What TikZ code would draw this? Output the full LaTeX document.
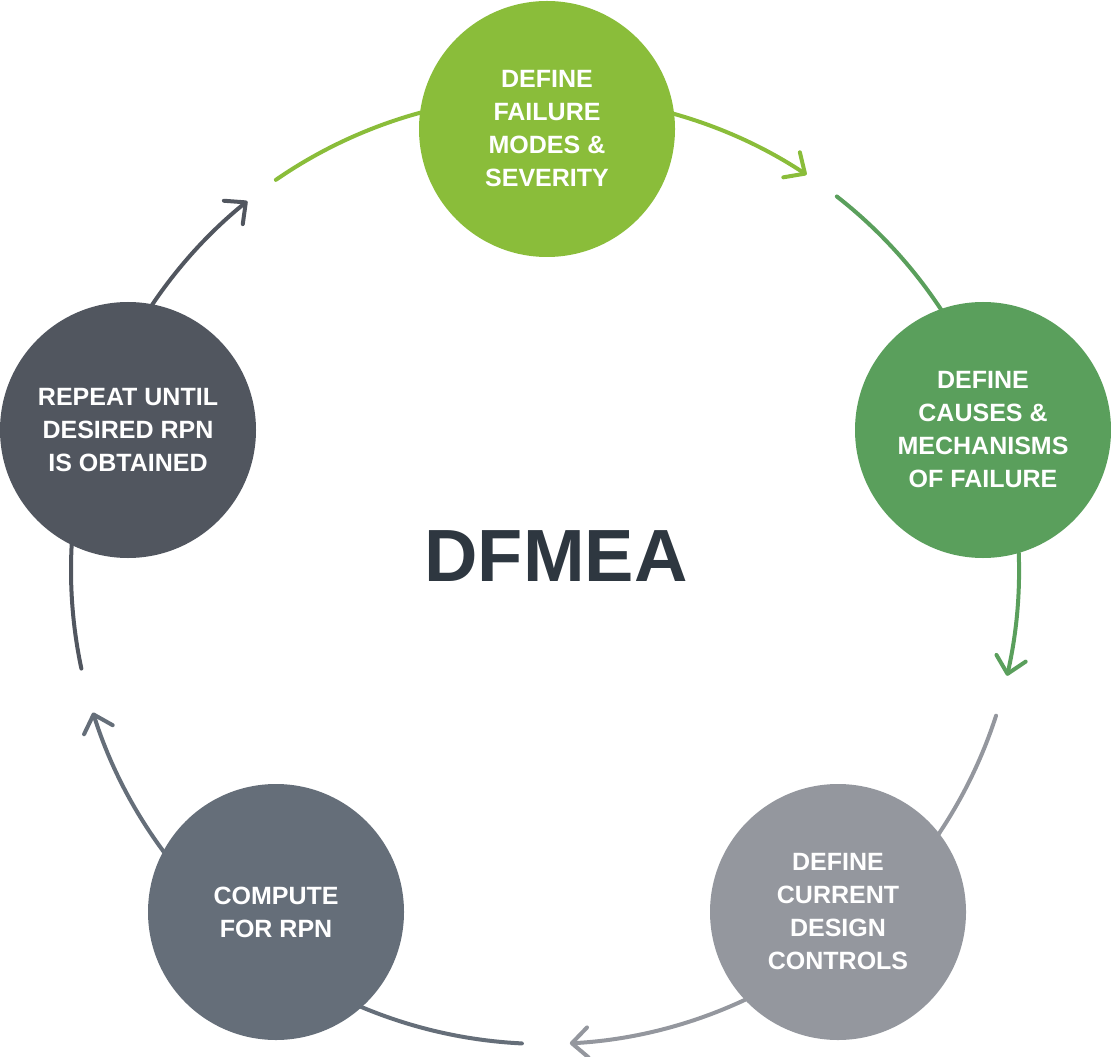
\documentclass[tikz,border=0pt]{standalone}
\usepackage{fontspec}
\setmainfont{Liberation Sans}
\usetikzlibrary{arrows.meta}
\definecolor{fmgreen}{HTML}{8ABD3A}
\definecolor{causegreen}{HTML}{5A9F5C}
\definecolor{ctrlgray}{HTML}{94979E}
\definecolor{rpnslate}{HTML}{656E79}
\definecolor{repslate}{HTML}{51565F}
\definecolor{titleink}{HTML}{2E3740}
\tikzset{
  stage/.style={circle,minimum size=128pt,inner sep=0pt,align=center,text=white,
    font=\bfseries\fontsize{12.5}{16.5}\selectfont},
  flow/.style={line width=2pt,line cap=round},
  flowtip/.style={flow,-{Straight Barb[length=8pt,width=15pt,round]}},
}
\begin{document}
\begin{tikzpicture}[x=0.5pt,y=0.5pt]
\useasboundingbox (0,0) rectangle (1111,1056);
\coordinate (hub) at (545,486);
% connectors on the big ring
\draw[flowtip,fmgreen] ([shift={(80:474)}]hub) arc[start angle=80,end angle=56.5,radius=474];
\draw[flow,causegreen] ([shift={(52:474)}]hub) arc[start angle=52,end angle=25,radius=474];
\draw[flowtip,causegreen] ([shift={(10:474)}]hub) arc[start angle=10,end angle=-12.9,radius=474];
\draw[flow,ctrlgray] ([shift={(-17.9:474)}]hub) arc[start angle=-17.9,end angle=-40,radius=474];
\draw[flowtip,ctrlgray] ([shift={(-55:474)}]hub) arc[start angle=-55,end angle=-87,radius=474];
\draw[flow,rpnslate] ([shift={(-92.8:474)}]hub) arc[start angle=-92.8,end angle=-120,radius=474];
\draw[flowtip,rpnslate] ([shift={(-130:474)}]hub) arc[start angle=-130,end angle=-162.5,radius=474];
\draw[flow,repslate] ([shift={(-168:474)}]hub) arc[start angle=-168,end angle=-190,radius=474];
\draw[flowtip,repslate] ([shift={(150:474)}]hub) arc[start angle=150,end angle=128.9,radius=474];
\draw[flow,fmgreen] ([shift={(124.6:474)}]hub) arc[start angle=124.6,end angle=100,radius=474];
% stages
\node[stage,fill=fmgreen] (failmodes) at (547,927) {DEFINE\\FAILURE\\MODES \&\\SEVERITY};
\node[stage,fill=causegreen] (causes) at (983,626) {DEFINE\\CAUSES \&\\MECHANISMS\\OF FAILURE};
\node[stage,fill=ctrlgray] (controls) at (838,144) {DEFINE\\CURRENT\\DESIGN\\CONTROLS};
\node[stage,fill=rpnslate] (rpn) at (276,144) {COMPUTE\\FOR RPN};
\node[stage,fill=repslate] (repeat) at (128,626) {REPEAT UNTIL\\DESIRED RPN\\IS OBTAINED};
\node[text=titleink,font=\bfseries\fontsize{37}{40}\selectfont] (title) at (556,500) {DFMEA};
\end{tikzpicture}
\end{document}
